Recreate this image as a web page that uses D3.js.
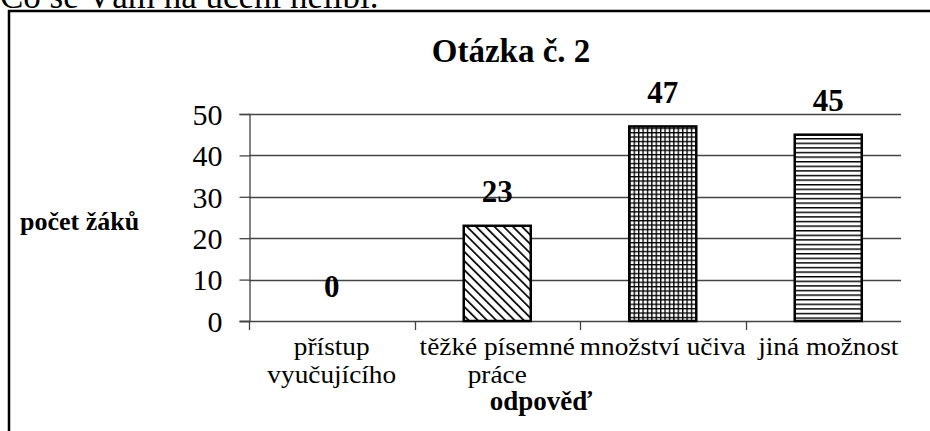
<!DOCTYPE html>
<html>
<head>
<meta charset="utf-8">
<script src="https://cdn.jsdelivr.net/npm/d3@7"></script>
<style>
  body { margin: 0; background: #fff; }
  svg text { font-family: "Liberation Serif", "Times New Roman", serif; fill: #000; }
</style>
</head>
<body>
<svg width="930" height="431"></svg>
<script>
// Data
var categories = [["přístup", "vyučujícího"], ["těžké písemné", "práce"], ["množství učiva"], ["jiná možnost"]];
var values = [0, 23, 47, 45];
var patterns = ["none", "diag", "grid", "horiz"];
var yTicks = [0, 10, 20, 30, 40, 50];

var svg = d3.select("svg"),
	width = +svg.attr("width"),
	height = +svg.attr("height");
var serif = "'Liberation Serif', 'Times New Roman', serif";

// Hatch patterns
var defs = svg.append("defs");
var p = defs.append("pattern").attr("id", "diag")
	.attr("patternUnits", "userSpaceOnUse").attr("width", 6.5).attr("height", 6.5)
	.attr("patternTransform", "rotate(-45)");
p.append("rect").attr("width", 6.5).attr("height", 6.5).attr("fill", "#fff");
p.append("line").attr("x1", 0).attr("y1", 0).attr("x2", 0).attr("y2", 6.5)
	.attr("stroke", "#000").attr("stroke-width", 3.4);

p = defs.append("pattern").attr("id", "grid")
	.attr("patternUnits", "userSpaceOnUse").attr("width", 4.4).attr("height", 4.4);
p.append("rect").attr("width", 4.4).attr("height", 4.4).attr("fill", "#fff");
p.append("path").attr("d", "M0,0.6H4.4M0.6,0V4.4").attr("stroke", "#000").attr("stroke-width", 1.5);

p = defs.append("pattern").attr("id", "horiz")
	.attr("patternUnits", "userSpaceOnUse").attr("width", 8).attr("height", 4.6);
p.append("rect").attr("width", 8).attr("height", 4.6).attr("fill", "#fff");
p.append("line").attr("x1", 0).attr("y1", 0.7).attr("x2", 8).attr("y2", 0.7)
	.attr("stroke", "#000").attr("stroke-width", 1.5);

// Question text above the frame (cut off at the top, as in the source)
svg.append("text")
	.attr("x", 0).attr("y", 8)
	.attr("font-family", serif)
	.style("font-size", "35px")
	.text("Co se Vám na učení nelíbí.");

// Chart frame
svg.append("rect")
	.attr("x", 9).attr("y", 11)
	.attr("width", 940).attr("height", 440)
	.attr("fill", "none").attr("stroke", "#000").attr("stroke-width", 2.5);

// Scales
var x = d3.scaleBand()
	.domain(d3.range(categories.length))
	.range([249, 911])
	.padding(0);
var y = d3.scaleLinear()
	.domain([0, 50])
	.range([321, 114]);
var plotRight = 901;
var barW = x.bandwidth() * 0.405;

// Gridlines
svg.append("g")
	.selectAll("line")
	.data(yTicks.filter(function (d) { return d > 0; }))
	.enter()
	.append("line")
	.attr("x1", 249).attr("x2", plotRight)
	.attr("y1", function (d) { return Math.round(y(d)) + 0.5; })
	.attr("y2", function (d) { return Math.round(y(d)) + 0.5; })
	.attr("stroke", "#444").attr("stroke-width", 1.3);

// Y axis
var yAxis = svg.append("g")
	.attr("transform", "translate(249.5,0)")
	.call(d3.axisLeft(y).tickValues(yTicks).tickSize(10).tickPadding(17));
yAxis.attr("font-family", serif).attr("font-size", null);
yAxis.select(".domain").attr("stroke", "#444").attr("stroke-width", 1.3);
yAxis.selectAll(".tick line").attr("stroke", "#444").attr("stroke-width", 1.3);
yAxis.selectAll(".tick text")
	.attr("font-family", serif)
	.style("font-size", "30px")
	.attr("dy", "0.34em");

// X axis (category ticks at band boundaries)
svg.append("line")
	.attr("x1", 240).attr("x2", plotRight)
	.attr("y1", Math.round(y(0)) + 0.5).attr("y2", Math.round(y(0)) + 0.5)
	.attr("stroke", "#444").attr("stroke-width", 1.3);
svg.append("g")
	.selectAll("line")
	.data(d3.range(categories.length))
	.enter()
	.append("line")
	.attr("x1", function (d) { return Math.round(x(d)) + 0.5; })
	.attr("x2", function (d) { return Math.round(x(d)) + 0.5; })
	.attr("y1", y(0)).attr("y2", y(0) + 9)
	.attr("stroke", "#444").attr("stroke-width", 1.3);

// Category labels
var labels = svg.append("g")
	.selectAll("text")
	.data(categories)
	.enter()
	.append("text")
	.attr("text-anchor", "middle")
	.attr("font-family", serif)
	.style("font-size", "26px")
	.attr("transform", function (d, i) {
		return "translate(" + (x(i) + x.bandwidth() / 2) + ",355) scale(1.05,1)";
	});
labels.selectAll("tspan")
	.data(function (d) { return d; })
	.enter()
	.append("tspan")
	.attr("x", 0)
	.attr("dy", function (d, i) { return i === 0 ? 0 : 28; })
	.text(function (d) { return d; });

// Bars
svg.append("g")
	.selectAll("rect")
	.data(values)
	.enter()
	.append("rect")
	.filter(function (d) { return d > 0; })
	.attr("x", function (d) { return x(values.indexOf(d)) + (x.bandwidth() - barW) / 2; })
	.attr("y", function (d) { return y(d); })
	.attr("width", barW)
	.attr("height", function (d) { return y(0) - y(d); })
	.attr("fill", function (d) { return "url(#" + patterns[values.indexOf(d)] + ")"; })
	.attr("stroke", "#000")
	.attr("stroke-width", 2.5);

// Value labels
svg.append("g")
	.selectAll("text")
	.data(values)
	.enter()
	.append("text")
	.attr("text-anchor", "middle")
	.attr("font-family", serif)
	.attr("x", function (d, i) { return x(i) + x.bandwidth() / 2; })
	.attr("y", function (d) { return Math.max(y(d) - 24, 103); })
	.style("font-size", "31px")
	.style("font-weight", "bold")
	.text(function (d) { return d; });

// Title
svg.append("text")
	.attr("x", 511).attr("y", 62)
	.attr("text-anchor", "middle")
	.attr("font-family", serif)
	.style("font-size", "33px")
	.style("font-weight", "bold")
	.text("Otázka č. 2");

// Axis titles
svg.append("text")
	.attr("x", 20).attr("y", 230)
	.attr("font-family", serif)
	.style("font-size", "26px")
	.style("font-weight", "bold")
	.text("počet žáků");
svg.append("text")
	.attr("x", 541).attr("y", 410)
	.attr("text-anchor", "middle")
	.attr("font-family", serif)
	.style("font-size", "27px")
	.style("font-weight", "bold")
	.text("odpověď");
</script>
</body>
</html>
